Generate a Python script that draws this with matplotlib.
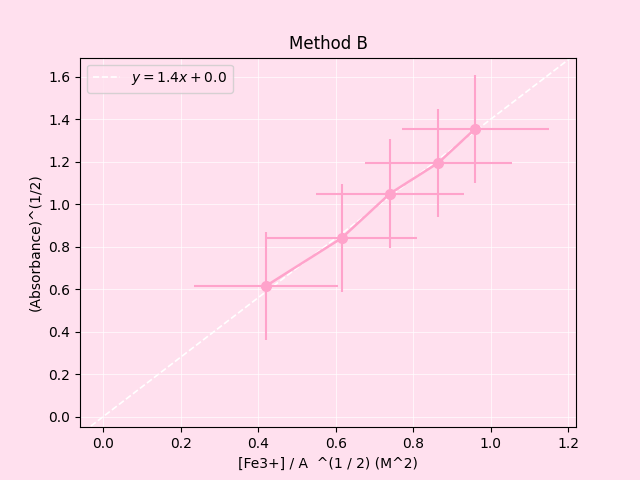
import numpy as np
import matplotlib.pyplot as plt

conc = [0.42, 0.615, 0.74, 0.865, 0.96]
absorb = [0.615, 0.84, 1.05, 1.195, 1.355]
conc_err = [0.185, 0.195, 0.19, 0.19, 0.19]
abs_err = [0.255, 0.255, 0.255, 0.255, 0.255]
slope, intercept = 1.4, 0.0

bg = '#ffe0ee'
pink = '#ffa3cb'

fig, ax = plt.subplots(figsize=(6.4, 4.8), dpi=100)
fig.patch.set_facecolor(bg)
ax.set_facecolor(bg)
ax.grid(True, color='white', linewidth=0.6, alpha=0.8)
ax.set_axisbelow(True)

xs = np.array([-0.05, 1.22])
ax.plot(xs, slope * xs + intercept, '--', color='white', linewidth=1.2,
        label=r'$y = 1.4x + 0.0$')
ax.errorbar(conc, absorb, xerr=conc_err, yerr=abs_err, fmt='o-', color=pink,
            markersize=7, linewidth=1.8, elinewidth=1.5)

ax.set_xlim(-0.06, 1.22)
ax.set_ylim(-0.05, 1.69)
ax.set_xticks(np.arange(0, 1.21, 0.2))
ax.set_yticks(np.arange(0, 1.61, 0.2))
ax.set_title('Method B')
ax.set_xlabel('[Fe3+] / A  ^(1 / 2) (M^2)')
ax.set_ylabel('(Absorbance)^(1/2)')
leg = ax.legend(loc='upper left', facecolor=bg)

plt.savefig('out.png')
